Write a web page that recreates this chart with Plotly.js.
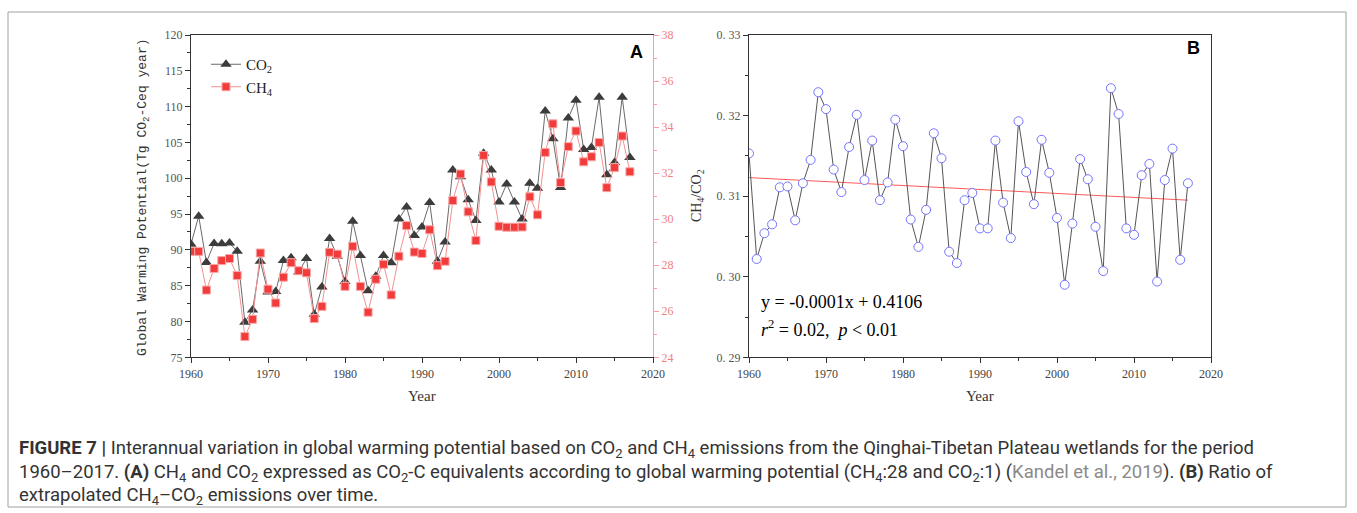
<!DOCTYPE html>
<html>
<head>
<meta charset="utf-8">
<script src="https://cdn.plot.ly/plotly-3.0.1.min.js"></script>
<style>
html,body{margin:0;padding:0;background:#fff;}
#chart{width:1357px;height:513px;}
</style>
</head>
<body>
<div id="chart"></div>
<script>
// ---- Data ----
const years = [1960,1961,1962,1963,1964,1965,1966,1967,1968,1969,
               1970,1971,1972,1973,1974,1975,1976,1977,1978,1979,
               1980,1981,1982,1983,1984,1985,1986,1987,1988,1989,
               1990,1991,1992,1993,1994,1995,1996,1997,1998,1999,
               2000,2001,2002,2003,2004,2005,2006,2007,2008,2009,
               2010,2011,2012,2013,2014,2015,2016,2017];

// Panel A: CO2 (left axis, Tg CO2-Ceq year)
const co2 = [90.8,94.7,88.25,90.9,90.85,90.95,89.8,79.9,81.6,88.4,
             84.1,84.2,88.5,88.9,86.9,88.8,81.0,84.8,91.6,89.1,
             85.6,94.0,89.2,84.3,86.3,89.2,88.2,94.3,96.0,92.0,
             93.2,96.6,88.4,91.1,101.15,100.2,97.0,94.1,103.5,101.15,
             96.7,99.2,96.7,94.3,99.3,98.6,109.4,105.5,98.7,108.4,
             110.9,104.0,104.3,111.3,100.5,102.2,111.3,102.9];

// Panel A: CH4 (right axis)
const ch4 = [28.60,28.60,26.92,27.86,28.20,28.29,27.55,24.90,25.65,28.53,
             26.96,26.36,27.48,28.11,27.76,27.67,25.68,26.21,28.56,28.48,
             27.08,28.82,27.08,25.96,27.39,28.04,26.71,28.39,29.72,28.57,
             28.51,29.54,27.98,28.17,30.81,31.96,30.32,29.07,32.77,31.62,
             29.69,29.65,29.65,29.66,30.97,30.19,32.90,34.14,31.59,33.15,
             33.83,32.49,32.71,33.33,31.37,32.24,33.61,32.06];

// Panel B: CH4/CO2 ratio
const ratio = [0.3153,0.3022,0.3054,0.3065,0.3111,0.3112,0.3070,0.3116,0.3145,0.3229,
               0.3208,0.3133,0.3105,0.3161,0.3201,0.3120,0.3169,0.3095,0.3117,0.3195,
               0.3162,0.3071,0.3037,0.3083,0.3178,0.3147,0.3031,0.3017,0.3095,0.3104,
               0.3060,0.3060,0.3169,0.3092,0.3048,0.3193,0.3130,0.3090,0.3170,0.3129,
               0.3073,0.2990,0.3066,0.3146,0.3121,0.3062,0.3007,0.3234,0.3202,0.3060,
               0.3052,0.3126,0.3140,0.2994,0.3120,0.3159,0.3021,0.3116];

// Panel B: fitted trend line end points
const trendYears = [1960, 2017];
const trendRatio = [0.3123, 0.3095];

// Tick labels
const yearTicks = [1960,1970,1980,1990,2000,2010,2020];
const ratioTicks = [0.29,0.30,0.31,0.32,0.33];
const ratioTickText = ["0. 29","0. 30","0. 31","0. 32","0. 33"];

// ---- Helpers (figure pixel -> paper fraction) ----
const W = 1357, H = 513;
const px = v => v / W;
const py = v => 1 - v / H;

const serif = "Liberation Serif, Times New Roman, serif";
const mono = "Liberation Mono, Courier New, monospace";
const capFont = "Roboto, Liberation Sans, sans-serif";

const traces = [
  {x: years, y: co2, xaxis:'x', yaxis:'y', name:'CO<sub>2</sub>', type:'scatter', mode:'lines+markers',
   line:{color:'#6a6a6a', width:1},
   marker:{symbol:'triangle-up', size:10, color:'#3c3c3c'}},
  {x: years, y: ch4, xaxis:'x', yaxis:'y2', name:'CH<sub>4</sub>', type:'scatter', mode:'lines+markers',
   line:{color:'#f39191', width:1},
   marker:{symbol:'square', size:8, color:'#f23c3c', line:{color:'#f8a8a8', width:1}}},
  {x: trendYears, y: trendRatio, xaxis:'x2', yaxis:'y3', type:'scatter', mode:'lines', showlegend:false,
   line:{color:'#ff5a5a', width:1}},
  {x: years, y: ratio, xaxis:'x2', yaxis:'y3', type:'scatter', mode:'lines+markers', showlegend:false,
   line:{color:'#555', width:1},
   marker:{symbol:'circle', size:9, color:'#ffffff', line:{color:'#7474ff', width:1}}}
];

const domA = [px(191), px(653)];
const domB = [px(749), px(1211)];
const domY = [py(357.3), py(35)];

const tickBase = {showgrid:false, zeroline:false, ticks:'outside', ticklen:5, tickwidth:1,
                  linewidth:1, showline:true};

function note(x, y, text, font, extra) {
  return Object.assign({xref:'paper', yref:'paper', x:px(x), y:py(y), text:text, showarrow:false,
                        xanchor:'center', yanchor:'middle', font:font}, extra || {});
}

const capStyle = {family:capFont, size:18.5, color:'#333'};

const layout = {
  width: W, height: H,
  margin:{l:0, r:0, t:0, b:0, pad:0},
  paper_bgcolor:'#ffffff', plot_bgcolor:'rgba(0,0,0,0)',
  showlegend:true,
  legend:{x:px(206), y:py(48), xanchor:'left', yanchor:'top', bgcolor:'rgba(0,0,0,0)',
          font:{family:serif, size:15, color:'#222'}, itemwidth:30, tracegroupgap:0},
  xaxis: Object.assign({}, tickBase, {domain:domA, anchor:'y', range:[1960,2020], tickvals:yearTicks,
          linecolor:'#333', tickcolor:'#333', mirror:true,
          tickfont:{family:serif, size:12, color:'#444'},
          minor:{dtick:5, tick0:1960, ticks:'outside', ticklen:3, tickcolor:'#333', showgrid:false}}),
  yaxis: Object.assign({}, tickBase, {domain:domY, anchor:'x', range:[75,120], dtick:5, tick0:75,
          linecolor:'#333', tickcolor:'#333',
          tickfont:{family:serif, size:12, color:'#555'},
          minor:{dtick:2.5, tick0:75, ticks:'outside', ticklen:3, tickcolor:'#333', showgrid:false}}),
  yaxis2: Object.assign({}, tickBase, {overlaying:'y', side:'right', anchor:'x', range:[24,38], dtick:2, tick0:24,
          linecolor:'#f4a0a0', tickcolor:'#f4a0a0',
          tickfont:{family:serif, size:12, color:'#f08080'},
          minor:{dtick:1, tick0:24, ticks:'outside', ticklen:3, tickcolor:'#f4a0a0', showgrid:false}}),
  xaxis2: Object.assign({}, tickBase, {domain:domB, anchor:'y3', range:[1960,2020], tickvals:yearTicks,
          linecolor:'#333', tickcolor:'#333', mirror:true,
          tickfont:{family:serif, size:12, color:'#444'},
          minor:{dtick:5, tick0:1960, ticks:'outside', ticklen:3, tickcolor:'#333', showgrid:false}}),
  yaxis3: Object.assign({}, tickBase, {domain:domY, anchor:'x2', range:[0.29,0.33],
          tickvals:ratioTicks, ticktext:ratioTickText,
          linecolor:'#333', tickcolor:'#333', mirror:true,
          tickfont:{family:serif, size:12, color:'#555'},
          minor:{dtick:0.005, tick0:0.29, ticks:'outside', ticklen:3, tickcolor:'#333', showgrid:false}}),
  shapes:[
    {type:'rect', xref:'paper', yref:'paper', x0:px(8), x1:px(1346), y0:py(507), y1:py(12),
     line:{color:'#a0a0a0', width:1}, fillcolor:'rgba(0,0,0,0)', layer:'below'}
  ],
  annotations:[
    note(636, 52, '<b>A</b>', {family:'Liberation Sans, Arial, sans-serif', size:18, color:'#000'}),
    note(1193, 48, '<b>B</b>', {family:'Liberation Sans, Arial, sans-serif', size:18, color:'#000'}),
    note(143, 197, 'Global Warming Potential(Tg CO<sub>2</sub>-Ceq year)', {family:mono, size:13, color:'#333'}, {textangle:-90}),
    note(422, 396, 'Year', {family:serif, size:15, color:'#333'}),
    note(980, 396, 'Year', {family:serif, size:15, color:'#333'}),
    note(697, 196, 'CH<sub>4</sub>/CO<sub>2</sub>', {family:serif, size:14, color:'#333'}, {textangle:-90}),
    note(759, 302, 'y = -0.0001x + 0.4106', {family:serif, size:18, color:'#000'}, {xanchor:'left'}),
    note(759, 328, '<i>r</i><sup>2</sup> = 0.02,  <i>p</i> &lt; 0.01', {family:serif, size:18, color:'#000'}, {xanchor:'left'}),
    note(17, 449, '<b>FIGURE 7 |</b> Interannual variation in global warming potential based on CO<sub>2</sub> and CH<sub>4</sub> emissions from the Qinghai-Tibetan Plateau wetlands for the period',
         capStyle, {xanchor:'left'}),
    note(17, 473, '1960–2017. <b>(A)</b> CH<sub>4</sub> and CO<sub>2</sub> expressed as CO<sub>2</sub>-C equivalents according to global warming potential (CH<sub>4</sub>:28 and CO<sub>2</sub>:1) (<span style="color:#8a8a8a">Kandel et al., 2019</span>). <b>(B)</b> Ratio of',
         capStyle, {xanchor:'left'}),
    note(17, 496, 'extrapolated CH<sub>4</sub>–CO<sub>2</sub> emissions over time.', capStyle, {xanchor:'left'})
  ]
};

Plotly.newPlot('chart', traces, layout, {displayModeBar:false, staticPlot:true});
</script>
</body>
</html>
